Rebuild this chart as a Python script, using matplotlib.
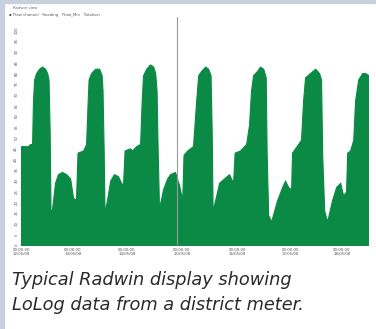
import matplotlib

matplotlib.use("Agg")
import matplotlib.pyplot as plt
from matplotlib.patches import Rectangle

hours = [
    0.0, 3.1, 4.0, 4.9, 5.3, 5.8, 6.7, 8.0, 9.3, 10.7, 11.6, 12.2, 12.7, 13.1,
    13.8, 15.1, 16.4, 18.2, 20.0, 21.8, 23.1, 24.4,
    25.1, 27.6, 28.9, 29.6, 30.0, 31.1, 32.9, 34.7, 35.8, 36.2, 36.7, 37.1,
    38.2, 39.6, 41.3, 43.1, 44.4, 45.3,
    46.0, 48.4, 49.3, 51.1, 52.9, 53.6, 54.2, 55.6, 57.3, 58.7, 59.6, 60.2,
    60.7, 61.3,
    63.1, 64.9, 66.2, 68.4, 70.2, 71.6,
    72.2, 73.8, 76.4, 77.8, 78.7, 80.0, 81.8, 83.1, 84.2, 84.7, 85.1,
    86.7, 88.0, 90.2, 92.4, 94.2,
    94.9, 97.3, 100.0, 101.3, 102.2, 103.1, 104.9, 106.2, 107.6, 108.7,
    109.1, 109.8, 111.1,
    113.8, 116.0, 117.3, 118.7, 120.0,
    120.4, 123.1, 124.4, 125.3, 126.2, 128.4, 130.7, 132.4, 133.3, 133.8,
    134.7, 136.0,
    138.2, 140.0, 141.8, 143.1, 144.4,
    144.9, 146.2, 147.6, 148.4, 149.8, 151.6, 152.9, 154.2,
]
flow = [
    46, 46, 47, 47, 67, 77, 80, 82, 83, 82, 80, 77, 53, 15,
    17, 29, 33, 34, 33, 31, 22, 21,
    43, 44, 47, 67, 77, 80, 82, 82, 79, 72, 44, 15,
    21, 30, 33, 32, 29, 28,
    44, 45, 44, 46, 47, 67, 79, 82, 84, 83, 80, 72, 44, 17,
    26, 31, 33, 34, 28, 21,
    42, 44, 46, 67, 79, 81, 83, 82, 79, 53, 16,
    23, 29, 31, 33, 29,
    43, 44, 47, 56, 72, 79, 81, 83, 82, 78, 44, 14, 11,
    21, 27, 30, 27, 26,
    43, 47, 49, 67, 78, 80, 82, 80, 77, 42, 16, 11,
    21, 27, 29, 23, 25,
    43, 44, 49, 67, 77, 80, 80, 79,
]
tick_hours = [0, 23, 47, 71.5, 96, 119.5, 142.5]
tick_labels = [
    "00:00:00\n12/05/08", "00:00:00\n13/05/08", "00:00:00\n14/05/08",
    "00:00:00\n15/05/08", "00:00:00\n16/05/08", "00:00:00\n17/05/08",
    "00:00:00\n18/05/08",
]
scale_ticks = list(range(0, 101, 5))
cursor_hour = 69.3
caption = "Typical Radwin display showing\nLoLog data from a district meter."

fig = plt.figure(figsize=(3.76, 3.29), dpi=100, facecolor="white")

# screenshot border
fig.patches.append(Rectangle((0, 0), 0.011, 1, transform=fig.transFigure,
                             color="#c7d0dc", zorder=0))
fig.patches.append(Rectangle((0, 0.99), 1, 0.01, transform=fig.transFigure,
                             color="#c7d0dc", zorder=0))

ax = fig.add_axes([0.056, 0.255, 0.923, 0.693])
ax.fill_between(hours, flow, 0, color="#0b8a45", linewidth=0.8,
                edgecolor="#0b8a45")
ax.axvline(cursor_hour, color="#9a9a9a", linewidth=0.8)
ax.set_xlim(0, hours[-1])
ax.set_ylim(0, 106)
ax.set_xticks(tick_hours)
ax.set_xticklabels(tick_labels, fontsize=2.8, color="#555555",
                   linespacing=1.1)
ax.set_yticks(scale_ticks)
ax.set_yticklabels([str(v) for v in scale_ticks], fontsize=2.8,
                   color="#555555", rotation=90, va="center")
ax.tick_params(length=0, pad=2)
for side in ax.spines.values():
    side.set_visible(False)

# tiny header of the logger window
fig.text(0.035, 0.972, "Radwin view", fontsize=2.8, color="#666666")
fig.text(0.025, 0.952, "\u25aa Flow channel   Reading   Flow_Min   Totaliser",
         fontsize=2.8, color="#555555")

fig.text(0.032, 0.175, caption, fontsize=12.8, style="italic",
         family="DejaVu Sans", color="#2a2a2a", va="top",
         linespacing=1.45)

fig.savefig("out.png", dpi=100, facecolor="white")
